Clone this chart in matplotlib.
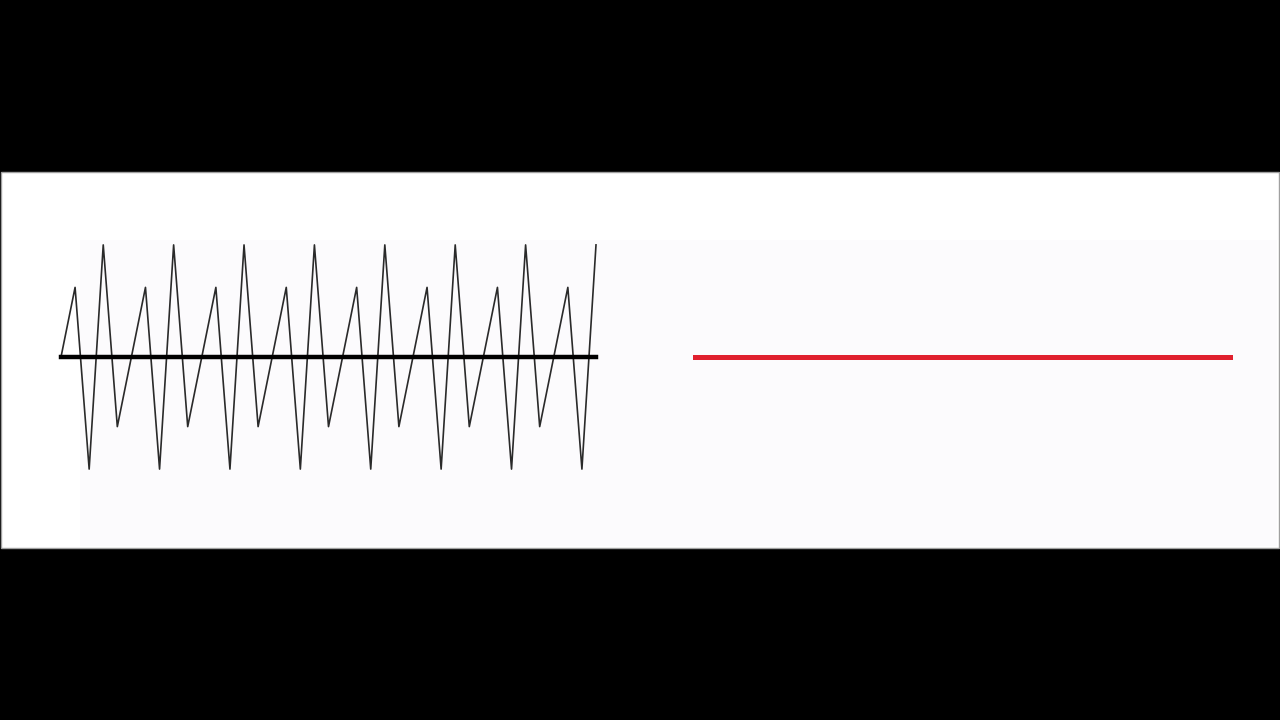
import matplotlib
matplotlib.use("Agg")
import matplotlib.pyplot as plt
from matplotlib.patches import Rectangle

samples = [0.0, 0.59, -0.95, 0.95, -0.59,
           0.0, 0.59, -0.95, 0.95, -0.59,
           0.0, 0.59, -0.95, 0.95, -0.59,
           0.0, 0.59, -0.95, 0.95, -0.59,
           0.0, 0.59, -0.95, 0.95, -0.59,
           0.0, 0.59, -0.95, 0.95, -0.59,
           0.0, 0.59, -0.95, 0.95, -0.59,
           0.0, 0.59, -0.95, 0.95]
sample_idx = list(range(len(samples)))

# Zero baseline (left) and reconstructed signal (right)
baseline_x = [0, 38]
baseline_y = [0.0, 0.0]
recon_x = [0, 38]
recon_y = [0.0, 0.0]

W, H = 1280, 720
fig = plt.figure(figsize=(12.8, 7.2), dpi=100, facecolor="black")

def fr(x0, y0, x1, y1):
    # pixel box (top-left origin) -> figure fraction rect
    return [x0 / W, 1 - y1 / H, (x1 - x0) / W, (y1 - y0) / H]

# white panel with thin gray border
r = fr(0.5, 172, 1278.5, 547.5)
fig.patches.append(Rectangle((r[0], r[1]), r[2], r[3], transform=fig.transFigure,
                             facecolor="white", edgecolor="#a0a0a0", linewidth=1.0, zorder=-2))
# faint lavender area
r = fr(80, 240, 1277, 546)
fig.patches.append(Rectangle((r[0], r[1]), r[2], r[3], transform=fig.transFigure,
                             facecolor="#fcfbfd", edgecolor="none", zorder=-1))

# left axes: sampled signal
axL = fig.add_axes(fr(61, 180, 596, 534))
axL.set_zorder(2)
axL.set_xlim(0, 38)
axL.set_ylim(-1.5, 1.5)
axL.axis("off")
axL.plot(sample_idx, samples, color="#2a2a2a", lw=1.2, clip_on=False, zorder=2)
axL.plot(baseline_x, baseline_y, color="black", lw=3.2, solid_capstyle="projecting",
         clip_on=False, zorder=3)

# right axes: reconstructed signal
axR = fig.add_axes(fr(695, 180, 1230, 534))
axR.set_zorder(2)
axR.set_xlim(0, 38)
axR.set_ylim(-1.5, 1.5)
axR.axis("off")
axR.plot(recon_x, recon_y, color="#e0202e", lw=3.6, solid_capstyle="projecting",
         clip_on=False)

fig.savefig("out.png", dpi=100, facecolor="black")
